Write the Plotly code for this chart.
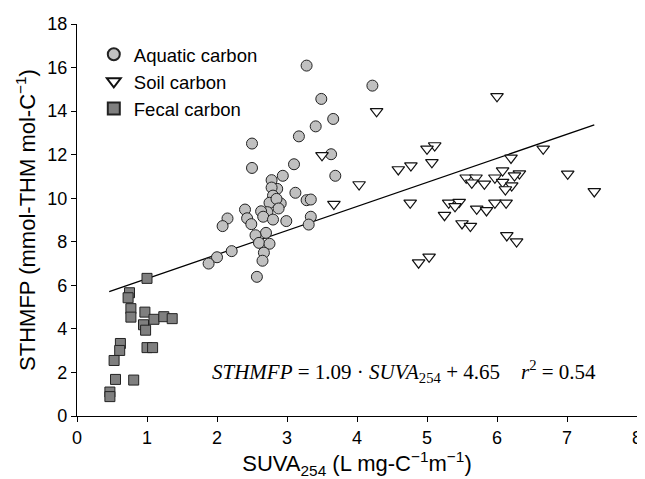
import plotly.graph_objects as go

# Aquatic carbon (circles)
aquatic_x = [3.28, 4.22, 3.49, 3.66, 3.41, 3.17, 2.50, 3.63, 3.10, 2.50, 3.69, 2.94,
             2.78, 2.86, 2.78, 3.12, 2.80, 2.75, 2.91, 2.85, 3.28, 3.34, 2.88, 2.72,
             2.63, 2.40, 2.66, 2.80, 2.99, 2.43, 3.34, 2.15, 2.08, 2.49, 3.31, 2.70,
             2.55, 2.60, 2.75, 2.21, 2.67, 2.00, 1.88, 2.65, 2.57]
aquatic_y = [16.09, 15.17, 14.56, 13.64, 13.30, 12.84, 12.51, 12.02, 11.56, 11.39, 11.03, 11.03,
             10.83, 10.43, 10.49, 10.25, 10.12, 9.79, 9.76, 9.97, 9.91, 9.94, 9.53, 9.36,
             9.40, 9.48, 9.15, 9.02, 8.95, 9.08, 9.15, 9.07, 8.72, 8.81, 8.79, 8.41,
             8.30, 7.95, 7.91, 7.57, 7.50, 7.29, 7.00, 7.13, 6.39]

# Soil carbon (down triangles)
soil_x = [4.28, 3.50, 4.03, 3.67, 6.00, 5.11, 5.00, 6.66, 6.20, 5.07, 4.59, 4.77,
          6.08, 6.32, 6.25, 7.01, 5.56, 5.70, 5.64, 5.82, 5.97, 6.08, 6.21, 6.12,
          7.39, 4.76, 5.31, 5.46, 5.40, 5.97, 6.13, 5.71, 5.85, 5.25, 5.50, 5.62,
          6.14, 6.28, 5.03, 4.88]
soil_y = [13.99, 11.97, 10.63, 9.73, 14.68, 12.42, 12.27, 12.27, 11.85, 11.65, 11.32, 11.50,
          11.27, 11.13, 11.04, 11.12, 10.94, 10.94, 10.71, 10.66, 10.94, 10.74, 10.58, 10.40,
          10.31, 9.79, 9.79, 9.82, 9.63, 9.79, 9.79, 9.51, 9.44, 9.22, 8.84, 8.72,
          8.29, 8.01, 7.31, 7.04]

# Fecal carbon (squares)
fecal_x = [1.00, 0.75, 0.73, 0.77, 0.77, 0.97, 1.10, 1.24, 1.36, 0.95, 0.98, 0.62,
           0.61, 1.00, 1.08, 0.53, 0.55, 0.81, 0.47, 0.47]
fecal_y = [6.32, 5.66, 5.43, 4.93, 4.54, 4.77, 4.44, 4.56, 4.47, 4.19, 3.94, 3.33,
           3.01, 3.14, 3.14, 2.55, 1.68, 1.65, 1.10, 0.89]

# regression line as drawn
fit_x = [0.46, 7.39]
fit_y = [5.71, 13.37]

font_main = "Liberation Sans, Arial, sans-serif"

fig = go.Figure()

fig.add_trace(go.Scatter(
    x=fit_x, y=fit_y, mode="lines", showlegend=False,
    line=dict(color="black", width=1.3), hoverinfo="skip"
))
fig.add_trace(go.Scatter(
    x=aquatic_x, y=aquatic_y, mode="markers", name="Aquatic carbon",
    marker=dict(symbol="circle", size=11, color="#c0c0c0",
                line=dict(color="#222222", width=1))
))
fig.add_trace(go.Scatter(
    x=soil_x, y=soil_y, mode="markers", name="Soil carbon",
    marker=dict(symbol="triangle-down", size=11, color="white",
                line=dict(color="#111111", width=1.2))
))
fig.add_trace(go.Scatter(
    x=fecal_x, y=fecal_y, mode="markers", name="Fecal carbon",
    marker=dict(symbol="square", size=10, color="#7f7f7f",
                line=dict(color="#222222", width=1))
))

fig.add_annotation(
    x=1.90, y=2.05, xref="x", yref="y", xanchor="left", yanchor="middle",
    showarrow=False,
    text=("<i>STHMFP</i> = 1.09 · <i>SUVA</i><sub>254</sub> + 4.65&nbsp;&nbsp;&nbsp;&nbsp;"
          "<i>r</i><sup>2</sup> = 0.54"),
    font=dict(family="Liberation Serif, Times New Roman, serif", size=21, color="black")
)

# page body has an 8px margin, so the figure is sized to fit inside it
fig.update_layout(
    width=637, height=471,
    paper_bgcolor="white", plot_bgcolor="white",
    margin=dict(l=69, r=8, t=16, b=63),
    font=dict(family=font_main, size=18.5, color="black"),
    legend=dict(x=0.03, y=0.97, xanchor="left", yanchor="top",
                bgcolor="rgba(0,0,0,0)", font=dict(size=18.5), itemsizing="constant",
                tracegroupgap=0),
    xaxis=dict(
        range=[0, 8], tickmode="array", tickvals=list(range(0, 9)),
        showgrid=False, zeroline=False, showline=True, linecolor="black", linewidth=1.2,
        ticks="outside", ticklen=5, tickcolor="black", tickfont=dict(size=18),
        automargin=False,
        title=dict(text="SUVA<sub>254</sub> (L mg-C<sup>−1</sup>m<sup>−1</sup>)", standoff=10),
    ),
    yaxis=dict(
        range=[0, 18], tickmode="array", tickvals=list(range(0, 19, 2)),
        showgrid=False, zeroline=False, showline=True, linecolor="black", linewidth=1.2,
        ticks="outside", ticklen=5, tickcolor="black", tickfont=dict(size=18),
        automargin=False,
        title=dict(text="STHMFP (mmol-THM mol-C<sup>−1</sup>)", standoff=5),
    ),
)

fig.write_html("out.html")
